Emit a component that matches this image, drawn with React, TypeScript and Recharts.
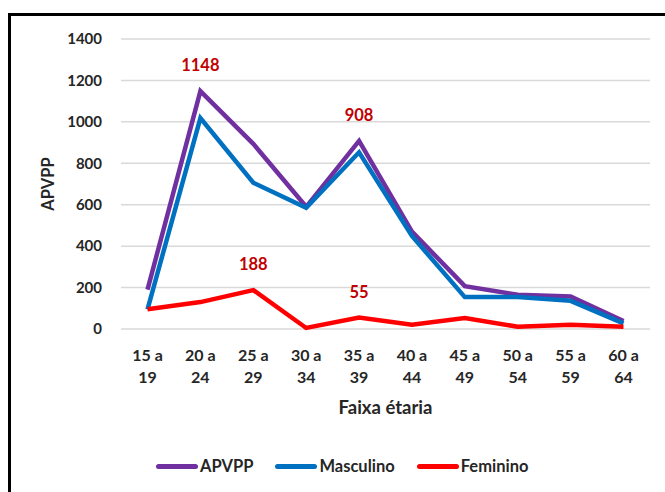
import { CartesianGrid, LabelList, Line, LineChart, XAxis, YAxis } from "recharts";

const FONT = "Lato, 'Open Sans', sans-serif";
const INK = "#262626";
const LABEL_RED = "#C00000";

const faixas = ["15 a 19", "20 a 24", "25 a 29", "30 a 34", "35 a 39", "40 a 44", "45 a 49", "50 a 54", "55 a 59", "60 a 64"];
const apvpp = [190, 1148, 894, 590, 908, 470, 207, 165, 157, 38];
const masculino = [95, 1018, 706, 585, 853, 449, 154, 154, 136, 27];
const feminino = [95, 130, 188, 5, 55, 21, 53, 11, 21, 11];
const yTicks = [0, 200, 400, 600, 800, 1000, 1200, 1400];

// which points carry a value label
const apvppLabeled = [1, 4];
const femininoLabeled = [2, 4];

const SERIES = [
  { key: "APVPP", color: "#7030A0" },
  { key: "Masculino", color: "#0070C0" },
  { key: "Feminino", color: "#FF0000" },
];

const data = faixas.map((f, i) => ({
  faixa: f,
  APVPP: apvpp[i],
  Masculino: masculino[i],
  Feminino: feminino[i],
}));

function CategoryTick({ x, y, payload }: any) {
  const [a, b] = String(payload.value).split(" a ");
  return (
    <text x={x} textAnchor="middle" fill={INK} fontSize={16} fontWeight={700} fontFamily={FONT}>
      <tspan x={x} y={y + 32}>{`${a} a`}</tspan>
      <tspan x={x} y={y + 54}>{b}</tspan>
    </text>
  );
}

function pointLabel(shown: number[]) {
  return (props: any) => {
    const { x, y, value, index } = props;
    if (!shown.includes(index)) return null;
    return (
      <text x={x} y={y - 20} textAnchor="middle" fill={LABEL_RED} fontSize={16.5} fontWeight={700} fontFamily={FONT}>
        {value}
      </text>
    );
  };
}

function LegendRow() {
  return (
    <div
      style={{
        position: "absolute",
        left: 156,
        top: 456,
        display: "flex",
        alignItems: "center",
        fontFamily: FONT,
        fontSize: 16.5,
        fontWeight: 700,
        color: INK,
        whiteSpace: "nowrap",
      }}
    >
      {SERIES.map((s) => (
        <span key={s.key} style={{ display: "inline-flex", alignItems: "center", marginRight: 22 }}>
          <span style={{ width: 42, height: 5, borderRadius: 3, background: s.color, marginRight: 2 }} />
          <span>{s.key}</span>
        </span>
      ))}
    </div>
  );
}

export default function App() {
  return (
    <div style={{ position: "absolute", left: 0, top: 0, width: 665, height: 492, background: "#fff", overflow: "hidden" }}>
      <div
        style={{
          position: "absolute",
          left: 8,
          top: 13,
          width: 700,
          height: 520,
          borderTop: "3px solid #000",
          borderLeft: "3px solid #000",
        }}
      />
      <div style={{ position: "absolute", left: 0, top: 0 }}>
        <LineChart width={665} height={492} data={data} margin={{ top: 39, right: 15, bottom: 103, left: 0 }}>
          <CartesianGrid vertical={false} stroke="#D9D9D9" strokeWidth={1.5} />
          <XAxis
            dataKey="faixa"
            axisLine={false}
            tickLine={false}
            tickSize={0}
            tickMargin={0}
            interval={0}
            height={60}
            padding={{ left: 26.5, right: 26.5 }}
            tick={<CategoryTick />}
            label={{ value: "Faixa étaria", position: "bottom", offset: 12, fill: INK, fontSize: 18.5, fontWeight: 700, fontFamily: FONT }}
          />
          <YAxis
            domain={[0, 1400]}
            ticks={yTicks}
            width={121}
            axisLine={false}
            tickLine={false}
            tickSize={0}
            tickMargin={19}
            tick={{ fill: INK, fontSize: 15, fontWeight: 700, fontFamily: FONT }}
            label={{
              content: () => (
                <text x={48} y={184} transform="rotate(-90 48 184)" textAnchor="middle" dominantBaseline="central" fill={INK} fontSize={16.5} fontWeight={700} fontFamily={FONT}>
                  APVPP
                </text>
              ),
            }}
          />
          {SERIES.map((s) => (
            <Line
              key={s.key}
              dataKey={s.key}
              stroke={s.color}
              strokeWidth={4.5}
              dot={false}
              activeDot={false}
              type="linear"
              isAnimationActive={false}
            >
              {s.key === "APVPP" && <LabelList dataKey="APVPP" content={pointLabel(apvppLabeled)} />}
              {s.key === "Feminino" && <LabelList dataKey="Feminino" content={pointLabel(femininoLabeled)} />}
            </Line>
          ))}
        </LineChart>
      </div>
      <LegendRow />
    </div>
  );
}
